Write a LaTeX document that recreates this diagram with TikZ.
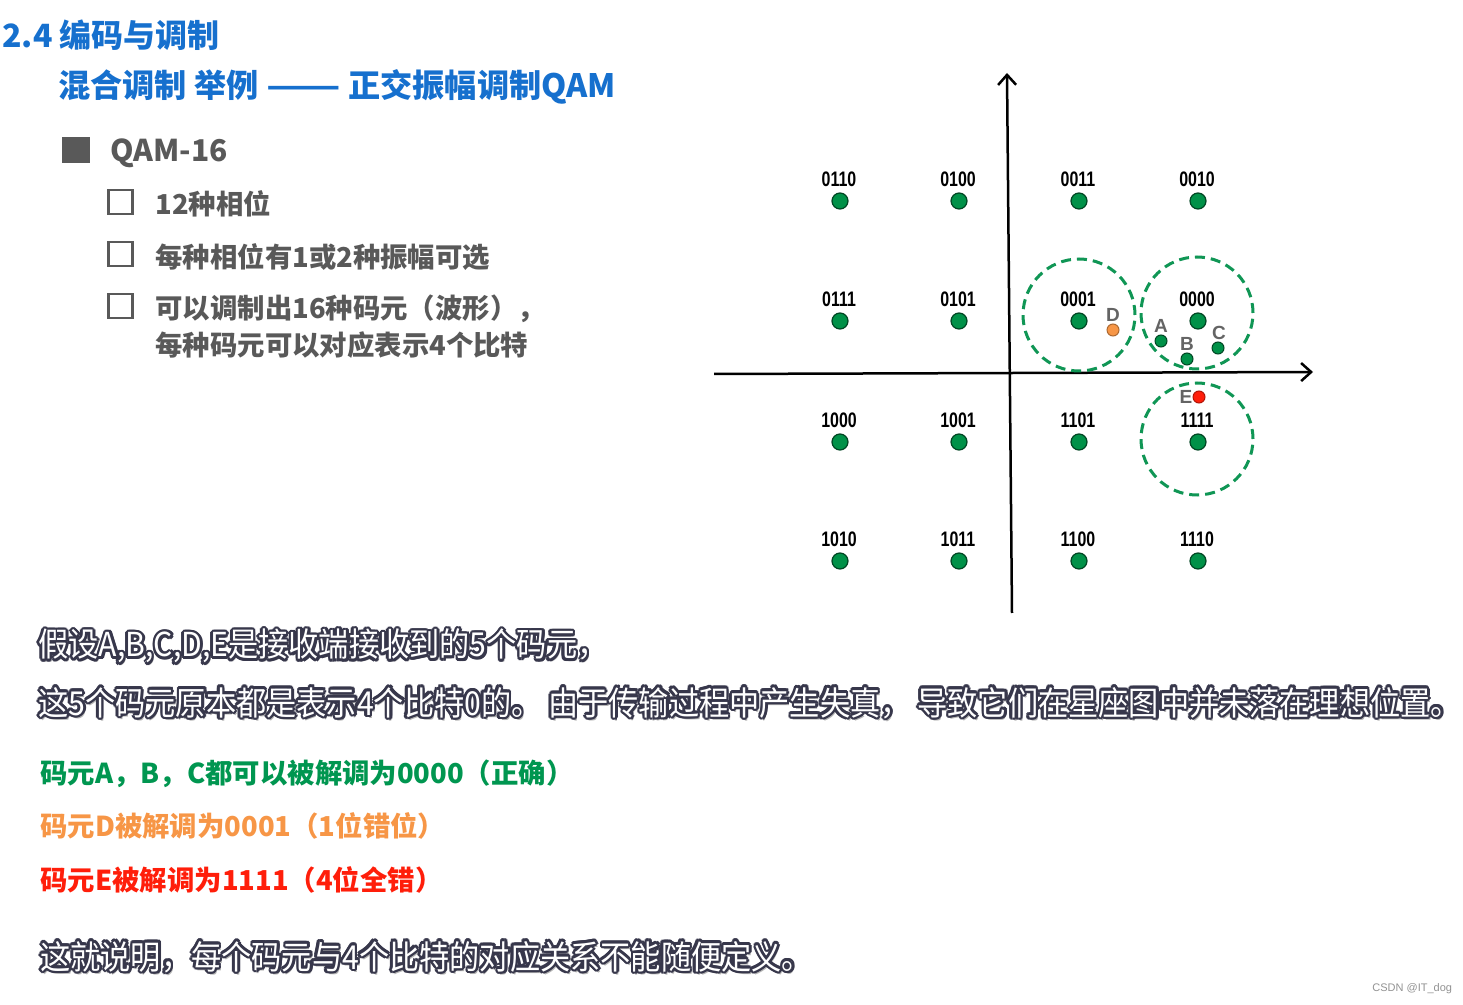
\documentclass[tikz,border=0pt]{standalone}
\usepackage{fontspec}
\setmainfont{Noto Sans CJK SC}
\newfontfamily\subfont[FakeStretch=0.915]{Noto Sans CJK SC}
\newfontfamily\narrowfont[FakeStretch=0.76]{Liberation Sans}
\newfontfamily\wmfont{Liberation Sans}
\usetikzlibrary{arrows.meta}
\definecolor{titleblue}{RGB}{22,112,206}
\definecolor{bulgray}{RGB}{89,89,89}
\definecolor{dotgreen}{RGB}{0,145,72}
\definecolor{dotedge}{RGB}{0,70,35}
\definecolor{ringgreen}{RGB}{16,150,85}
\definecolor{okgreen}{RGB}{0,150,80}
\definecolor{dorange}{RGB}{247,150,70}
\definecolor{ered}{RGB}{255,30,10}
\definecolor{olc}{RGB}{55,55,75}
\definecolor{ptlbl}{RGB}{100,100,100}
\newcommand\outlinedtext[3]{%
  \node[subout, text=black!30, shift={(2,3)}] (#1s) at #2 {#3};
  \foreach \ang in {0,30,...,330}{\node[subout, shift={(\ang:2.6)}] (#1o\ang) at #2 {#3};}
  \node[subin] (#1) at #2 {#3};
}
\tikzset{
  txt/.style={anchor=west, inner sep=0pt},
  titlea/.style={txt, text=titleblue, font=\bfseries\fontsize{16}{19}\selectfont},
  titleb/.style={txt, text=titleblue, font=\bfseries\fontsize{16.1}{19}\selectfont},
  bul/.style={txt, text=bulgray, font=\bfseries\fontsize{13.7}{18}\selectfont},
  bulbox/.style={draw=bulgray, line width=1.2pt, minimum size=12pt, inner sep=0pt},
  axis/.style={line width=1.25pt, -{Straight Barb[length=5pt,width=9pt]}},
  dot/.style={circle, fill=dotgreen, draw=dotedge, line width=0.6pt, minimum size=8pt, inner sep=0pt},
  sdot/.style={circle, line width=0.5pt, minimum size=6pt, inner sep=0pt},
  lbl/.style={inner sep=0pt, font=\narrowfont\bfseries\fontsize{10.5}{12}\selectfont},
  plbl/.style={inner sep=0pt, text=ptlbl, font=\wmfont\bfseries\fontsize{9.5}{11}\selectfont},
  ring/.style={circle, draw=ringgreen, line width=1.5pt, dash pattern=on 5pt off 3pt, minimum size=56pt, inner sep=0pt},
  colline/.style={txt, font=\bfseries\fontsize{13.7}{16}\selectfont},
  subout/.style={txt, text=olc, font=\subfont\fontsize{16.5}{19}\selectfont},
  subin/.style={txt, text=white, font=\subfont\fontsize{16.5}{19}\selectfont},
}
\begin{document}
\begin{tikzpicture}[x=0.5pt,y=-0.5pt]
\useasboundingbox[fill=white] (0,0) rectangle (1463,1005);
% titles
\node[titlea] (t1) at (2,35) {2.4 编码与调制};
\node[titleb] (t2) at (58,87) {混合调制 举例 \scalebox{1.35}[1]{——} 正交振幅调制QAM};
% bullets
\node[fill=bulgray, minimum width=14pt, minimum height=13pt, inner sep=0pt] (sq0) at (76,150) {};
\node[bul, font=\bfseries\fontsize{15}{18}\selectfont] (b0) at (110,153) {QAM-16};
\node[bulbox] (sq1) at (120.5,202) {};
\node[bulbox] (sq2) at (120.5,254) {};
\node[bulbox] (sq3) at (120.5,306) {};
\node[bul] (b1) at (155,204) {12种相位};
\node[bul] (b2) at (155,257) {每种相位有1或2种振幅可选};
\node[bul] (b3) at (155,309) {可以调制出16种码元（波形），};
\node[bul] (b4) at (155,345) {每种码元可以对应表示4个比特};
% axes
\coordinate (xl) at (714,374); \coordinate (xr) at (1313,372);
\coordinate (yb) at (1012,613); \coordinate (yt) at (1007,73);
\draw[axis] (xl) -- (xr);
\draw[axis] (yb) -- (yt);
% rings
\node[ring] (r0001) at (1079,315) {};
\node[ring] (r0000) at (1197,313) {};
\node[ring] (r1111) at (1197,439) {};
% constellation points
\foreach \lab/\x/\y in {0110/840/201, 0100/959/201, 0011/1079/201, 0010/1198/201,
  0111/840/321, 0101/959/321, 0001/1079/321, 0000/1198/321,
  1000/840/442, 1001/959/442, 1101/1079/442, 1111/1198/442,
  1010/840/561, 1011/959/561, 1100/1079/561, 1110/1198/561}{
  \node[dot] (p\lab) at (\x,\y) {};
  \node[lbl] (l\lab) at (\x-1,\y-22) {\lab};
}
% received symbols
\node[sdot, fill=dorange, draw=dorange!70!black] (D) at (1113,330) {};
\node[plbl] (lD) at (1113,315) {D};
\node[sdot, fill=dotgreen, draw=dotedge] (A) at (1161,341) {};
\node[plbl] (lA) at (1161,326) {A};
\node[sdot, fill=dotgreen, draw=dotedge] (B) at (1187,359) {};
\node[plbl] (lB) at (1187,344) {B};
\node[sdot, fill=dotgreen, draw=dotedge] (C) at (1218,348) {};
\node[plbl] (lC) at (1219,333) {C};
\node[sdot, fill=ered, draw=ered!70!black] (E) at (1199,397) {};
\node[plbl] (lE) at (1186,397) {E};
% subtitle-like text
\outlinedtext{s1}{(38,646)}{假设A,B,C,D,E是接收端接收到的5个码元，}
\outlinedtext{s2}{(38,703)}{这5个码元原本都是表示4个比特0的。 由于传输过程中产生失真， 导致它们在星座图中并未落在理想位置。}
\outlinedtext{s3}{(40,957)}{这就说明，每个码元与4个比特的对应关系不能随便定义。}
% coloured conclusions
\node[colline, text=okgreen] (c1) at (40,774) {码元A，B，C都可以被解调为0000（正确）};
\node[colline, text=dorange] (c2) at (40,826) {码元D被解调为0001（1位错位）};
\node[colline, text=ered] (c3) at (40,880) {码元E被解调为1111（4位全错）};
% watermark
\node[txt, text=gray!85, font=\wmfont\fontsize{5.5}{6}\selectfont] (wm) at (1372,989) {CSDN @IT\_dog};
\end{tikzpicture}
\end{document}
